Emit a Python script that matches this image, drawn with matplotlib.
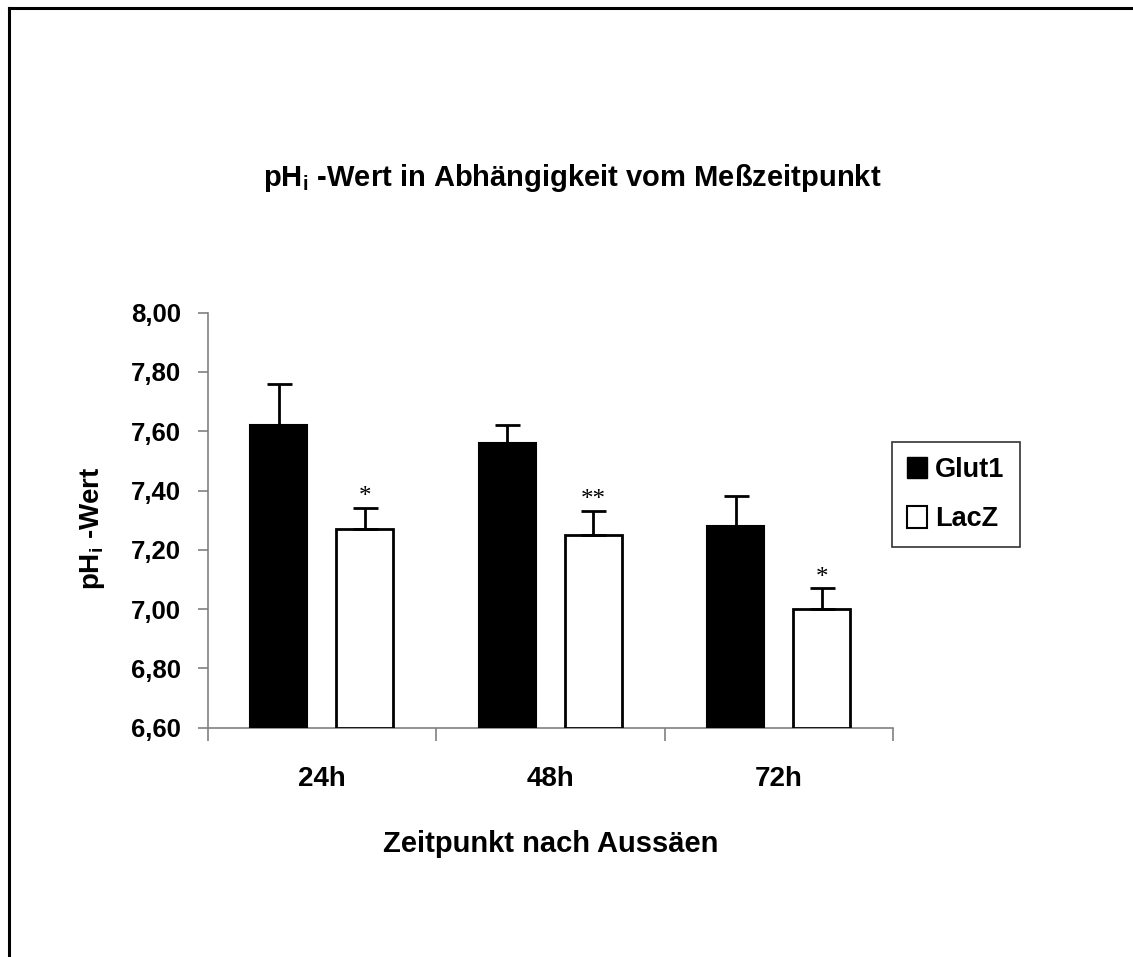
import numpy as np
import matplotlib
matplotlib.use("Agg")
import matplotlib.pyplot as plt
from matplotlib.patches import Patch
from matplotlib.lines import Line2D
from matplotlib.ticker import FixedLocator, FuncFormatter

plt.rcParams['font.family'] = ['Liberation Sans', 'DejaVu Sans']
plt.rcParams['font.weight'] = 'bold'
plt.rcParams['mathtext.fontset'] = 'custom'
plt.rcParams['mathtext.rm'] = 'Liberation Sans:bold'
plt.rcParams['mathtext.it'] = 'Liberation Sans:bold'
plt.rcParams['mathtext.bf'] = 'Liberation Sans:bold'

# ---- data ----
categories = ['24h', '48h', '72h']
series_names = ['Glut1', 'LacZ']
glut1 = [7.62, 7.56, 7.28]
glut1_err = [0.14, 0.06, 0.10]
lacz = [7.27, 7.25, 7.00]
lacz_err = [0.07, 0.08, 0.07]
lacz_sig = ['*', '**', '*']
y_ticks = [6.6, 6.8, 7.0, 7.2, 7.4, 7.6, 7.8, 8.0]
y_min, y_max = 6.6, 8.0

title_text = 'pH$_\\mathrm{i}$ -Wert in Abhängigkeit vom Meßzeitpunkt'
ylabel_text = 'pH$_\\mathrm{i}$ -Wert'
xlabel_text = 'Zeitpunkt nach Aussäen'

W, H = 1133, 957
fig = plt.figure(figsize=(W / 100, H / 100), dpi=100)

# outer frame (top and left edges visible)
fig.add_artist(Line2D([8.5 / W, 8.5 / W], [0, 1 - 7.5 / H], transform=fig.transFigure,
                      color='black', lw=2.2, solid_capstyle='projecting'))
fig.add_artist(Line2D([8.5 / W, 1.0], [1 - 7.5 / H, 1 - 7.5 / H], transform=fig.transFigure,
                      color='black', lw=2.2, solid_capstyle='projecting'))

ax_l, ax_r, ax_t, ax_b = 207.5, 893, 312.7, 727.7
ax = fig.add_axes([ax_l / W, 1 - ax_b / H, (ax_r - ax_l) / W, (ax_b - ax_t) / H])

x = np.arange(len(categories)) + 0.5
off = 0.188
bw = 0.25
g = np.array(glut1)
l = np.array(lacz)
ax.bar(x - off, g - y_min, bottom=y_min, width=bw, color='black', edgecolor='black',
       linewidth=1.5, zorder=2)
ax.bar(x + off, l - y_min, bottom=y_min, width=bw, color='white', edgecolor='black',
       linewidth=2, zorder=2)
zeros = np.zeros(len(categories))
ax.errorbar(x - off, g, yerr=[zeros, glut1_err], fmt='none', ecolor='black',
            elinewidth=2, capsize=9, capthick=2, zorder=3)
ax.errorbar(x + off, l, yerr=[zeros, lacz_err], fmt='none', ecolor='black',
            elinewidth=2, capsize=9, capthick=2, zorder=3)
for xi, v, e, s in zip(x + off, l, lacz_err, lacz_sig):
    ax.annotate(s, (xi, v + e), xytext=(0, 3.5), textcoords='offset points',
                ha='center', va='baseline', fontsize=18, fontweight='normal',
                family='Liberation Serif')

ax.set_xlim(0, len(categories))
ax.set_ylim(y_min, y_max)
for sp in ['top', 'right']:
    ax.spines[sp].set_visible(False)
for sp in ['left', 'bottom']:
    ax.spines[sp].set_color('#808080')
    ax.spines[sp].set_linewidth(1.2)
    ax.spines[sp].set_zorder(1)

ax.yaxis.set_major_locator(FixedLocator(y_ticks))
ax.yaxis.set_major_formatter(FuncFormatter(lambda v, p: f'{v:.2f}'.replace('.', ',')))
ax.tick_params(axis='y', direction='out', length=7.5, width=1.2, color='#808080',
               labelsize=18.5, pad=11.5)
ax.xaxis.set_major_locator(FixedLocator(np.arange(len(categories) + 1)))
ax.xaxis.set_minor_locator(FixedLocator(x))
ax.set_xticklabels([], minor=False)
ax.set_xticklabels(categories, minor=True)
ax.tick_params(axis='x', which='major', direction='out', length=9, width=1.2, color='#808080')
ax.tick_params(axis='x', which='minor', length=0, labelsize=20, pad=27.5)
for lab in ax.get_yticklabels() + ax.get_xticklabels(minor=True):
    lab.set_fontweight('bold')

fig.text(572.5 / W, 1 - 186 / H, title_text, ha='center', va='baseline', fontsize=21,
         fontweight='bold')
fig.text(92 / W, 1 - 528 / H, ylabel_text, ha='center', va='center', rotation=90,
         fontsize=20, fontweight='bold')
fig.text(551 / W, 1 - 852 / H, xlabel_text, ha='center', va='baseline', fontsize=21,
         fontweight='bold')

handles = [Patch(facecolor='black', edgecolor='black', linewidth=1),
           Patch(facecolor='white', edgecolor='black', linewidth=1.5)]
leg = fig.legend(handles, series_names, loc='upper left',
                 bbox_to_anchor=(892 / W, 1 - 442 / H), borderaxespad=0,
                 frameon=True, fancybox=False, handlelength=0.75,
                 handleheight=0.85, handletextpad=0.3, labelspacing=0.85,
                 borderpad=0.55, prop={'weight': 'bold', 'size': 19.5})
leg.get_frame().set_edgecolor('black')
leg.get_frame().set_linewidth(1.2)

fig.savefig('out.png', dpi=100, facecolor='white')
